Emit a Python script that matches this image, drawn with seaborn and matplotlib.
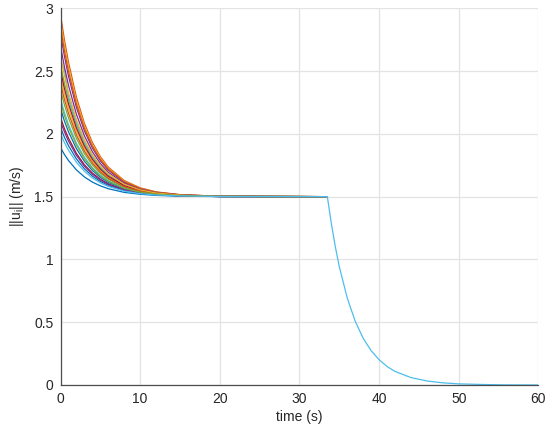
import matplotlib
matplotlib.use("Agg")
import matplotlib.pyplot as plt
import pandas as pd
import seaborn as sns

# tiempos de la fase de convergencia (s)
t_approach = [0, 0.5, 1, 2, 3, 4, 5, 6, 8, 10, 12, 15, 20, 33.5]

# ||u_i|| de cada agente
u_agents = [
    [1.89, 1.835, 1.788, 1.713, 1.657, 1.616, 1.586, 1.563, 1.534, 1.519, 1.510, 1.504, 1.501, 1.50],
    [2.95, 2.746, 2.572, 2.292, 2.084, 1.932, 1.819, 1.735, 1.628, 1.570, 1.538, 1.516, 1.503, 1.50],
    [2.90, 2.703, 2.535, 2.264, 2.064, 1.917, 1.808, 1.727, 1.623, 1.567, 1.536, 1.515, 1.503, 1.50],
    [2.80, 2.617, 2.461, 2.210, 2.024, 1.887, 1.786, 1.711, 1.614, 1.562, 1.534, 1.514, 1.503, 1.50],
    [2.55, 2.402, 2.276, 2.073, 1.923, 1.813, 1.731, 1.670, 1.592, 1.550, 1.527, 1.512, 1.502, 1.50],
    [2.58, 2.508, 2.298, 2.090, 1.935, 1.822, 1.738, 1.675, 1.595, 1.552, 1.528, 1.512, 1.502, 1.50],
    [2.13, 2.041, 1.966, 1.844, 1.754, 1.688, 1.639, 1.602, 1.555, 1.530, 1.516, 1.507, 1.501, 1.50],
    [2.05, 1.972, 1.906, 1.800, 1.722, 1.664, 1.621, 1.589, 1.548, 1.526, 1.514, 1.506, 1.501, 1.50],
    [2.85, 2.660, 2.498, 2.237, 2.044, 1.902, 1.797, 1.719, 1.619, 1.565, 1.535, 1.515, 1.503, 1.50],
    [2.45, 2.316, 2.202, 2.019, 1.883, 1.783, 1.709, 1.654, 1.584, 1.546, 1.525, 1.510, 1.502, 1.50],
    [2.70, 2.531, 2.387, 2.155, 1.984, 1.858, 1.764, 1.694, 1.606, 1.558, 1.531, 1.513, 1.502, 1.50],
    [2.35, 2.230, 2.128, 1.964, 1.843, 1.753, 1.687, 1.638, 1.575, 1.541, 1.522, 1.509, 1.502, 1.50],
    [2.28, 2.170, 2.076, 1.926, 1.814, 1.732, 1.672, 1.626, 1.569, 1.537, 1.520, 1.509, 1.502, 1.50],
    [2.50, 2.359, 2.239, 2.046, 1.903, 1.798, 1.720, 1.662, 1.588, 1.548, 1.526, 1.511, 1.502, 1.50],
    [2.20, 2.101, 2.017, 1.882, 1.782, 1.709, 1.654, 1.613, 1.562, 1.534, 1.518, 1.508, 1.501, 1.50],
    [2.40, 2.273, 2.165, 1.991, 1.863, 1.768, 1.698, 1.646, 1.579, 1.543, 1.523, 1.510, 1.502, 1.50],
    [2.62, 2.462, 2.328, 2.112, 1.951, 1.834, 1.746, 1.681, 1.599, 1.554, 1.529, 1.512, 1.502, 1.50],
    [2.10, 2.015, 1.943, 1.828, 1.742, 1.679, 1.632, 1.597, 1.553, 1.529, 1.516, 1.507, 1.501, 1.50],
    [2.25, 2.144, 2.054, 1.910, 1.802, 1.724, 1.665, 1.622, 1.566, 1.536, 1.520, 1.508, 1.502, 1.50],
    [2.00, 1.930, 1.870, 1.773, 1.702, 1.649, 1.610, 1.581, 1.544, 1.524, 1.513, 1.506, 1.501, 1.50],
]

# fase de frenado (la curva visible es la del ultimo agente)
t_drop = [33.5, 34, 34.5, 35, 36, 37, 38, 39, 40, 41, 42, 44, 46, 48, 50, 53, 56, 60]
u_drop = [1.5, 1.286, 1.101, 0.942, 0.692, 0.507, 0.372, 0.273, 0.201, 0.147,
          0.108, 0.059, 0.032, 0.017, 0.009, 0.004, 0.001, 0.0]

colores_matlab = ["#0072BD", "#D95319", "#EDB120", "#7E2F8E", "#77AC30", "#4DBEEE", "#A2142F"]

filas = []
ultimo = len(u_agents) - 1
for i, u in enumerate(u_agents):
    tiempos = list(t_approach)
    valores = list(u)
    if i == ultimo:
        tiempos += t_drop[1:]
        valores += u_drop[1:]
    for t, v in zip(tiempos, valores):
        filas.append({"agente": i, "t": t, "u": v})
df = pd.DataFrame(filas)

paleta = {i: colores_matlab[i % 7] for i in range(len(u_agents))}

sns.set_style("whitegrid")
plt.rcParams["font.family"] = ["Liberation Sans", "DejaVu Sans"]

fig = plt.figure(figsize=(5.5, 4.37), dpi=100)
ax = fig.add_axes([0.110, 0.119, 0.869, 0.862])

sns.lineplot(data=df, x="t", y="u", hue="agente", palette=paleta,
             legend=False, sort=False, estimator=None, linewidth=0.9, ax=ax)

ax.set_xlim(0, 60)
ax.set_ylim(0, 3)
ax.set_xticks([0, 10, 20, 30, 40, 50, 60])
ax.set_yticks([0, 0.5, 1, 1.5, 2, 2.5, 3])
ax.set_yticklabels(["0", "0.5", "1", "1.5", "2", "2.5", "3"])
ax.set_xlabel("time (s)", fontsize=10, color="#262626", labelpad=3)
ax.set_ylabel(r"||u$_\mathregular{i}$|| (m/s)", fontsize=10, color="#262626", labelpad=6)

ax.grid(True, color="#e3e3e3", linewidth=0.9)
ax.set_axisbelow(True)
for lado in ["top", "right"]:
    ax.spines[lado].set_visible(False)
for lado in ["left", "bottom"]:
    ax.spines[lado].set_color("#4d4d4d")
    ax.spines[lado].set_linewidth(0.9)
ax.tick_params(direction="in", length=4, width=0.8, color="#4d4d4d",
               labelsize=10, labelcolor="#262626", pad=5)
ax.set_facecolor("white")
fig.set_facecolor("white")

fig.savefig("out.png", dpi=100)
